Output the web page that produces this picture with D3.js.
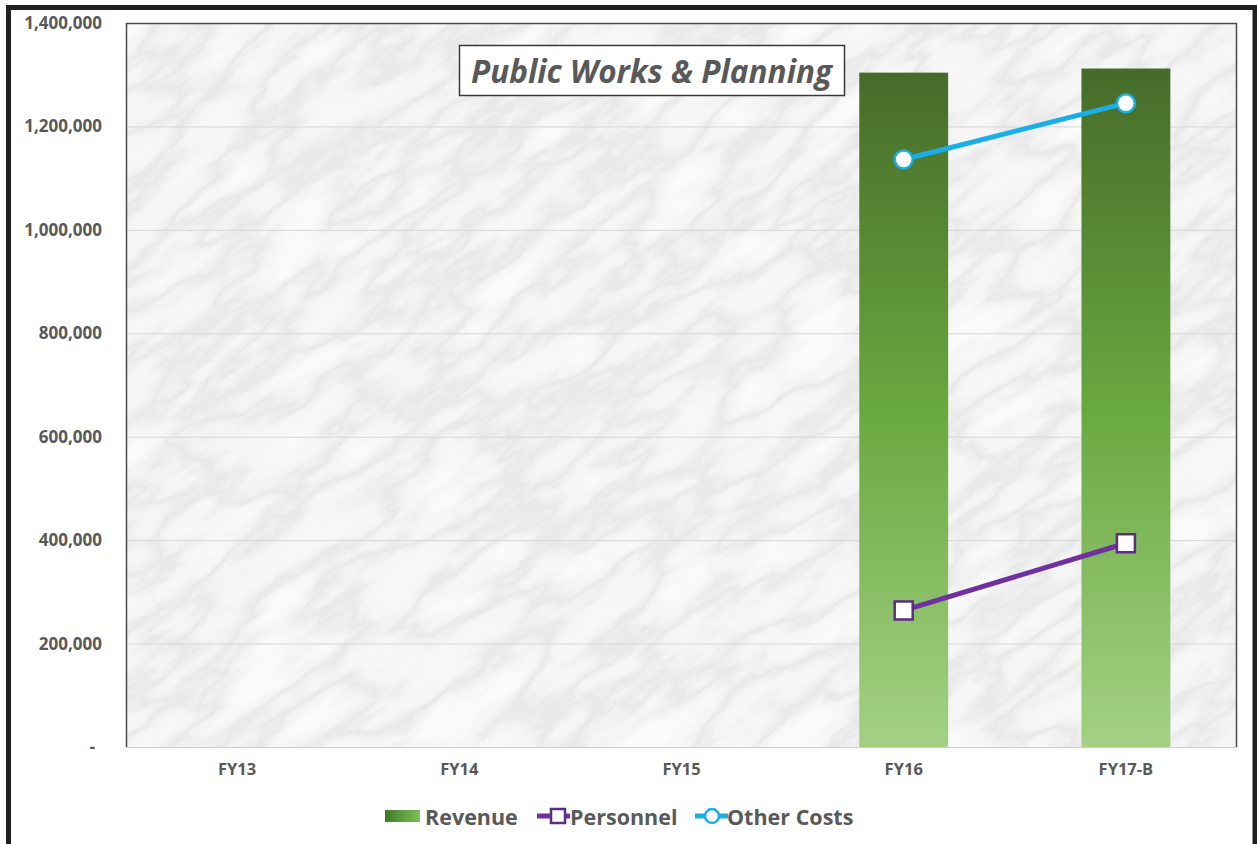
<!DOCTYPE html>
<html>
<head>
<meta charset="utf-8">
<script src="https://cdn.jsdelivr.net/npm/d3@7"></script>
<style>
  body { margin: 0; background: #ffffff; }
  svg { display: block; font-family: "Open Sans", Lato, sans-serif; }
</style>
</head>
<body>
<div id="chart"></div>
<script>
// data
var categories = ["FY13", "FY14", "FY15", "FY16", "FY17-B"];
var revenue    = [null, null, null, 1304000, 1312000];
var personnel  = [null, null, null, 264000, 394000];
var otherCosts = [null, null, null, 1136000, 1245000];
var yTicks     = [0, 200000, 400000, 600000, 800000, 1000000, 1200000, 1400000];
var seriesNames = ["Revenue", "Personnel", "Other Costs"];

var w = 1257, h = 844;
var plot = { left: 126, top: 23, right: 1237, bottom: 747 }; // plot area box
var textGrey = "#595959";

var svg = d3.select("#chart").append("svg")
    .attr("width", w)
    .attr("height", h);

var defs = svg.append("defs");

// marble-ish texture from turbulence, thin grey veins on near white
var marble = defs.append("filter")
    .attr("id", "marble")
    .attr("x", 0).attr("y", 0).attr("width", 1).attr("height", 1);
marble.append("feTurbulence")
    .attr("type", "fractalNoise")
    .attr("baseFrequency", "0.008 0.022")
    .attr("numOctaves", 6)
    .attr("seed", 11);
marble.append("feColorMatrix")
    .attr("type", "matrix")
    .attr("values", "1 0 0 0 0  1 0 0 0 0  1 0 0 0 0  0 0 0 0 1");
var ct = marble.append("feComponentTransfer");
["feFuncR", "feFuncG", "feFuncB"].forEach(f => {
    ct.append(f).attr("type", "table")
      .attr("tableValues", "0.97 0.96 0.95 0.94 0.93 0.93 0.92 0.9 0.86 0.81 0.87 0.91 0.93 0.95 0.96 0.97 0.98 0.99 0.99");
});

var clip = defs.append("clipPath").attr("id", "plotClip");
clip.append("rect")
    .attr("x", plot.left).attr("y", plot.top)
    .attr("width", plot.right - plot.left)
    .attr("height", plot.bottom - plot.top);

var grad = defs.append("linearGradient")
    .attr("id", "barGrad")
    .attr("x1", 0).attr("y1", 0).attr("x2", 0).attr("y2", 1);
grad.append("stop").attr("offset", "0%").attr("stop-color", "#466b2a");
grad.append("stop").attr("offset", "50%").attr("stop-color", "#69a83f");
grad.append("stop").attr("offset", "100%").attr("stop-color", "#a3d185");

var legGrad = defs.append("linearGradient")
    .attr("id", "legGrad")
    .attr("x1", 0).attr("y1", 0).attr("x2", 1).attr("y2", 0);
legGrad.append("stop").attr("offset", "0%").attr("stop-color", "#3f7a28");
legGrad.append("stop").attr("offset", "100%").attr("stop-color", "#7cc055");

// background texture, rotated so the veins run diagonally
svg.append("g")
    .attr("clip-path", "url(#plotClip)")
    .append("rect")
    .attr("x", -400).attr("y", -900)
    .attr("width", 2200).attr("height", 2200)
    .attr("transform", "rotate(-35 680 385)")
    .attr("filter", "url(#marble)");

var x = d3.scaleBand()
    .domain(categories)
    .range([plot.left, plot.right])
    .padding(0);

var y = d3.scaleLinear()
    .domain([0, 1400000])
    .range([plot.bottom, plot.top]);

// gridlines
svg.append("g")
    .selectAll("line")
    .data(yTicks.filter(d => d > 0 && d < 1400000))
    .enter()
    .append("line")
    .attr("x1", plot.left).attr("x2", plot.right)
    .attr("y1", d => y(d) + 0.5).attr("y2", d => y(d) + 0.5)
    .attr("stroke", "#d6d6d6")
    .attr("stroke-width", 1);

// revenue bars
var barW = x.bandwidth() * 0.4;
svg.append("g")
    .selectAll("rect")
    .data(categories.map((c, i) => ({ cat: c, v: revenue[i] })).filter(d => d.v != null))
    .enter()
    .append("rect")
    .attr("x", d => x(d.cat) + (x.bandwidth() - barW) / 2)
    .attr("y", d => y(d.v))
    .attr("width", barW)
    .attr("height", d => plot.bottom - y(d.v))
    .attr("fill", "url(#barGrad)");

// plot box border
svg.append("line")
    .attr("x1", plot.left).attr("x2", plot.right)
    .attr("y1", plot.bottom + 0.5).attr("y2", plot.bottom + 0.5)
    .attr("stroke", "#cfcfcf");
svg.append("path")
    .attr("d", "M" + (plot.left + 0.5) + "," + plot.bottom + "V" + (plot.top + 0.5) + "H" + (plot.right - 0.5) + "V" + plot.bottom)
    .attr("fill", "none")
    .attr("stroke", "#4a4a4a")
    .attr("stroke-width", 1.5);

// lines
var line = d3.line()
    .defined(d => d.v != null)
    .x(d => x(d.cat) + x.bandwidth() / 2)
    .y(d => y(d.v));

var persData = categories.map((c, i) => ({ cat: c, v: personnel[i] }));
var otherData = categories.map((c, i) => ({ cat: c, v: otherCosts[i] }));

svg.append("path")
    .datum(persData)
    .attr("d", line)
    .attr("fill", "none")
    .attr("stroke", "#7030a0")
    .attr("stroke-width", 5);

svg.append("g")
    .selectAll("rect")
    .data(persData.filter(d => d.v != null))
    .enter()
    .append("rect")
    .attr("x", d => x(d.cat) + x.bandwidth() / 2 - 9)
    .attr("y", d => y(d.v) - 9)
    .attr("width", 18)
    .attr("height", 18)
    .attr("fill", "#ffffff")
    .attr("stroke", "#5c2d86")
    .attr("stroke-width", 2.5);

svg.append("path")
    .datum(otherData)
    .attr("d", line)
    .attr("fill", "none")
    .attr("stroke", "#1aaee6")
    .attr("stroke-width", 5);

svg.append("g")
    .selectAll("circle")
    .data(otherData.filter(d => d.v != null))
    .enter()
    .append("circle")
    .attr("cx", d => x(d.cat) + x.bandwidth() / 2)
    .attr("cy", d => y(d.v))
    .attr("r", 9)
    .attr("fill", "#ffffff")
    .attr("stroke", "#1aaee6")
    .attr("stroke-width", 2.5);

// y axis
var yAxis = svg.append("g")
    .attr("transform", "translate(" + (plot.left - 24) + ",0)")
    .call(d3.axisLeft(y)
        .tickValues(yTicks)
        .tickSize(0)
        .tickPadding(0)
        .tickFormat(d => d === 0 ? "-" : d3.format(",")(d)));
yAxis.select(".domain").remove();
yAxis.selectAll("text")
    .attr("fill", textGrey)
    .style("font-size", "17px")
    .style("font-weight", "bold")
    .style("font-family", "'Open Sans', sans-serif");
yAxis.selectAll(".tick").filter(d => d === 0).select("text").attr("dx", "-7");

// x axis labels
var xAxis = svg.append("g")
    .attr("transform", "translate(0," + plot.bottom + ")")
    .call(d3.axisBottom(x).tickSize(0).tickPadding(16));
xAxis.select(".domain").remove();
xAxis.selectAll("text")
    .attr("fill", textGrey)
    .style("font-size", "16.5px")
    .style("font-weight", "bold")
    .style("font-family", "'Open Sans', sans-serif");

// title box
var tx = 651.5, ty = 70;
svg.append("rect")
    .attr("x", 459.5).attr("y", 45.5)
    .attr("width", 385).attr("height", 50)
    .attr("fill", "#ffffff")
    .attr("stroke", "#3a3a3a")
    .attr("stroke-width", 1.5);
svg.append("text")
    .attr("x", tx).attr("y", ty)
    .attr("text-anchor", "middle")
    .attr("dominant-baseline", "central")
    .attr("fill", textGrey)
    .style("font-size", "31.5px")
    .style("font-weight", "bold")
    .style("font-style", "italic")
    .text("Public Works & Planning");

// legend
var legY = 816;
var leg = svg.append("g").attr("class", "legend");
leg.append("rect")
    .attr("x", 385).attr("y", legY - 6)
    .attr("width", 35).attr("height", 12)
    .attr("fill", "url(#legGrad)");
leg.append("line")
    .attr("x1", 537).attr("x2", 570).attr("y1", legY).attr("y2", legY)
    .attr("stroke", "#7030a0").attr("stroke-width", 5);
leg.append("rect")
    .attr("x", 551).attr("y", legY - 7).attr("width", 14).attr("height", 14)
    .attr("fill", "#ffffff").attr("stroke", "#5c2d86").attr("stroke-width", 2.5);
leg.append("line")
    .attr("x1", 695).attr("x2", 728).attr("y1", legY).attr("y2", legY)
    .attr("stroke", "#1aaee6").attr("stroke-width", 5);
leg.append("circle")
    .attr("cx", 712).attr("cy", legY).attr("r", 7)
    .attr("fill", "#ffffff").attr("stroke", "#1aaee6").attr("stroke-width", 2.5);

var legX = [425, 570, 727];
leg.selectAll("text")
    .data(seriesNames)
    .enter()
    .append("text")
    .attr("x", (d, i) => legX[i])
    .attr("y", legY)
    .attr("dominant-baseline", "central")
    .attr("fill", textGrey)
    .style("font-size", "21.5px")
    .style("font-weight", "bold")
    .text(d => d);

// outer frame
svg.append("rect")
    .attr("x", 8.5).attr("y", 7.5)
    .attr("width", 1246.5).attr("height", 900)
    .attr("fill", "none")
    .attr("stroke", "#231f20")
    .attr("stroke-width", 5);
</script>
</body>
</html>
